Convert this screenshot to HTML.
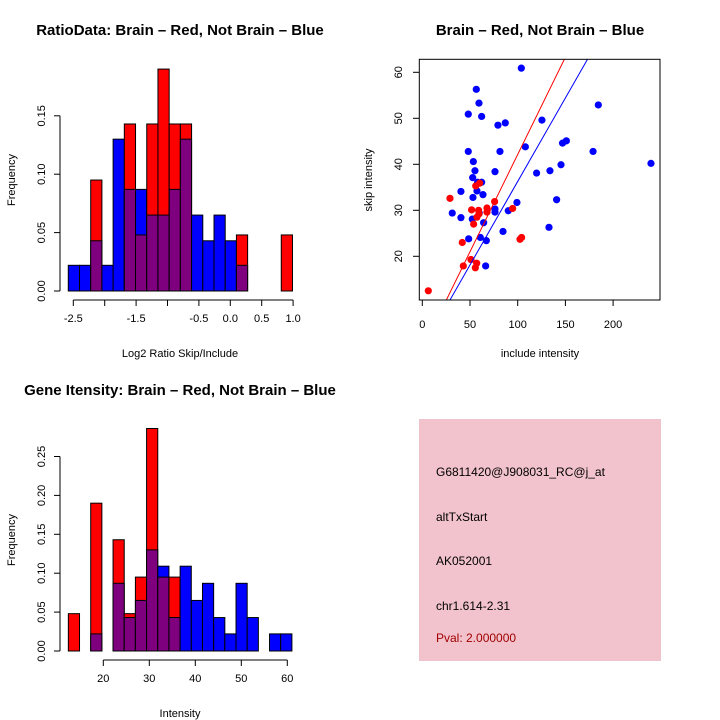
<!DOCTYPE html>
<html><head><meta charset="utf-8"><style>
html,body{margin:0;padding:0;background:#fff}
svg{display:block;font-family:"Liberation Sans",Helvetica,sans-serif}
</style></head><body>
<svg id="s" width="720" height="720" xmlns="http://www.w3.org/2000/svg">
<rect x="419" y="419" width="242" height="242" fill="#f2c3cc"/>
<g font-size="12">
<text x="436" y="476">G6811420@J908031_RC@j_at</text>
<text x="436" y="521">altTxStart</text>
<text x="436" y="565">AK052001</text>
<text x="436" y="610">chr1.614-2.31</text>
<text x="436" y="642" fill="#a00000">Pval: 2.000000</text>
</g>
</svg>
<script>
// ---- data ----
const ratioBinStart = -2.58, ratioBinWidth = 0.1785;
const ratioBlue = [0.022,0.022,0.043,0.022,0.13,0.087,0.087,0.065,0.065,0.087,0.13,0.065,0.043,0.065,0.043,0.022,0,0,0,0];
const ratioRed  = [0,0,0.095,0,0,0.143,0.048,0.143,0.19,0.143,0.143,0,0,0,0,0.048,0,0,0,0.048];
const ratioXTicks = [-2.5,-2,-1.5,-1,-0.5,0,0.5,1.0];
const ratioXLabels = ["-2.5","","-1.5","","-0.5","0.0","0.5","1.0"];
const ratioYTicks = [0,0.05,0.10,0.15];
const ratioYLabels = ["0.00","0.05","0.10","0.15"];

const intBinStart = 12.4, intBinWidth = 2.43;
const intBlue = [0,0,0.022,0,0.087,0.043,0.065,0.13,0.109,0.043,0.109,0.065,0.087,0.043,0.022,0.087,0.043,0,0.022,0.022];
const intRed  = [0.048,0,0.19,0,0.143,0.048,0.095,0.286,0.095,0.095,0,0,0,0,0,0,0,0,0,0];
const intXTicks = [20,30,40,50,60];
const intYTicks = [0,0.05,0.10,0.15,0.20,0.25];
const intYLabels = ["0.00","0.05","0.10","0.15","0.20","0.25"];

const blueX = [103.8,56.6,59.4,48.2,62.2,79.3,87,125.4,184.5,48.2,81.4,108,147,151,179,239.7,53.5,55.2,76.2,119.8,133.8,145.4,52.8,58,62.2,40.5,57.3,63.6,53.1,140.8,99.2,90.1,76.2,76.2,31.4,40.5,52.4,59.7,64.3,84.6,132.8,48.6,60.8,67.1,66.4];
const blueY = [60.9,56.3,53.3,50.9,50.4,48.5,49,49.6,52.9,42.8,42.8,43.8,44.6,45.1,42.8,40.2,40.6,38.6,38.4,38.1,38.6,39.9,37.1,36.1,36.1,34.1,34.2,33.4,32.8,32.3,31.7,29.9,30.3,29.6,29.4,28.4,28.1,29.4,27.3,25.4,26.3,23.8,24.1,23.4,17.9];
const redX = [6.3,29,41.9,43,51.7,59,53.8,56,60.1,59.4,57.3,67.8,67.8,75.8,94.7,102.4,104.1,51,57,55.6];
const redY = [12.5,32.6,23.0,17.9,30.1,30,27,35.3,35.9,29.2,28.5,30.5,29.6,31.9,30.4,23.7,24.1,19.3,18.5,17.5];
const fitRed = [-0.16,0.423];   // intercept, slope
const fitBlue = [-0.03,0.363];
const scatXTicks = [0,50,100,150,200];
const scatYTicks = [20,30,40,50,60];

// ---- drawing ----
const S = document.getElementById('s');
const NS = 'http://www.w3.org/2000/svg';
function mk(tag, attrs, parent){const e=document.createElementNS(NS,tag);for(const k in attrs)e.setAttribute(k,attrs[k]);(parent||S).appendChild(e);return e;}
function txt(x,y,s,opt,parent){const e=mk('text',Object.assign({x:x,y:y,'text-anchor':'middle','font-size':11},opt||{}),parent);e.textContent=s;return e;}

function hist(cfg){
  const g=mk('g',{});
  
  
  const xs=v=>cfg.x0+(v-cfg.xv0)*cfg.xk, ys=v=>cfg.y0-v*cfg.yk;
  for(let i=0;i<cfg.blue.length;i++){
    const b=cfg.blue[i], r=cfg.red[i];
    const xl=xs(cfg.start+i*cfg.width), xr=xs(cfg.start+(i+1)*cfg.width);
    const mx=Math.max(b,r), mn=Math.min(b,r);
    if(mx>0){
      const rc=mk('rect',{x:xl,y:ys(mx),width:xr-xl,height:ys(0)-ys(mx),fill:r>b?'#ff0000':'#0000ff',stroke:'#000','stroke-width':1},g);
      
      
    }
    if(mn>0){
      const pc=mk('rect',{x:xl,y:ys(mn),width:xr-xl,height:ys(0)-ys(mn),fill:'#7f007f',stroke:'#000','stroke-width':1},g);
      
      
    }
  }
  const ya=mk('g',{},g);
  
  
  mk('line',{x1:cfg.yaxX,x2:cfg.yaxX,y1:ys(cfg.yTicks[0]),y2:ys(cfg.yTicks[cfg.yTicks.length-1]),stroke:'#000'},ya);
  cfg.yTicks.forEach((t,i)=>{
    mk('line',{x1:cfg.yaxX-6,x2:cfg.yaxX,y1:ys(t),y2:ys(t),stroke:'#000'},ya);
    txt(cfg.yaxX-18,ys(t),cfg.yLabels[i],{transform:`rotate(-90 ${cfg.yaxX-18} ${ys(t)})`,'dominant-baseline':'central'},ya);
  });
  const xa=mk('g',{},g);
  
  
  const xt=cfg.xTicks;
  mk('line',{x1:xs(xt[0]),x2:xs(xt[xt.length-1]),y1:cfg.xaxY,y2:cfg.xaxY,stroke:'#000'},xa);
  xt.forEach((t,i)=>{
    mk('line',{x1:xs(t),x2:xs(t),y1:cfg.xaxY,y2:cfg.xaxY+6,stroke:'#000'},xa);
    if(cfg.xLabels[i]) txt(xs(t),cfg.xaxY+22,cfg.xLabels[i],{},xa);
  });
}

hist({name:'ratio-histogram',x0:73.3,xv0:-2.5,xk:62.8,y0:291,yk:1168,start:ratioBinStart,width:ratioBinWidth,
  blue:ratioBlue,red:ratioRed,yTicks:ratioYTicks,yLabels:ratioYLabels,xTicks:ratioXTicks,xLabels:ratioXLabels,yaxX:60,xaxY:300});
hist({name:'intensity-histogram',x0:103.3,xv0:20,xk:4.6,y0:651,yk:778,start:intBinStart,width:intBinWidth,
  blue:intBlue,red:intRed,yTicks:intYTicks,yLabels:intYLabels,xTicks:intXTicks,xLabels:intXTicks.map(String),yaxX:60,xaxY:660});

const sg=mk('g',{});


const sx=v=>422.3+v*0.954, sy=v=>72.3+(60-v)*4.6;
const clip=mk('clipPath',{id:'pc'},sg);mk('rect',{x:419.3,y:59.3,width:240.7,height:240.7},clip);
const pts=mk('g',{'clip-path':'url(#pc)'},sg);


blueX.forEach((x,i)=>{const c=mk('circle',{cx:sx(x),cy:sy(blueY[i]),r:3.6,fill:'#0000ff'},pts);
  
  });
redX.forEach((x,i)=>{const c=mk('circle',{cx:sx(x),cy:sy(redY[i]),r:3.6,fill:'#ff0000'},pts);
  
  });
[[fitRed,'#ff0000','red-fit-line'],[fitBlue,'#0000ff','blue-fit-line']].forEach(([f,c,n])=>{
  const l=mk('line',{x1:sx(-10),y1:sy(f[0]+f[1]*-10),x2:sx(260),y2:sy(f[0]+f[1]*260),stroke:c,'stroke-width':1},pts);
  
  
});
mk('rect',{x:419.3,y:59.3,width:240.7,height:240.7,fill:'none',stroke:'#000'},sg);
mk('line',{x1:sx(0),x2:sx(200),y1:300,y2:300,stroke:'#000'},sg);
scatXTicks.forEach(t=>{mk('line',{x1:sx(t),x2:sx(t),y1:300,y2:306,stroke:'#000'},sg);txt(sx(t),328,String(t),{},sg);});
scatYTicks.forEach(t=>{mk('line',{x1:413,x2:419.3,y1:sy(t),y2:sy(t),stroke:'#000'},sg);
  txt(399,sy(t),String(t),{transform:`rotate(-90 399 ${sy(t)})`,'dominant-baseline':'central'},sg);});

function lab(x,y,s,name,opt){const e=txt(x,y,s,opt);}
lab(180,35,'RatioData: Brain \u2013 Red, Not Brain \u2013 Blue','ratio-title',{'font-weight':'bold','font-size':15});
lab(540,35,'Brain \u2013 Red, Not Brain \u2013 Blue','scatter-title',{'font-weight':'bold','font-size':15});
lab(180,395,'Gene Itensity: Brain \u2013 Red, Not Brain \u2013 Blue','intensity-title',{'font-weight':'bold','font-size':15});
lab(180,357,'Log2 Ratio Skip/Include','ratio-x-title',{});
lab(540,357,'include intensity','scatter-x-title',{});
lab(180,717,'Intensity','intensity-x-title',{});
lab(12,180,'Frequency','ratio-y-title',{transform:'rotate(-90 12 180)','dominant-baseline':'central'});
lab(12,540,'Frequency','intensity-y-title',{transform:'rotate(-90 12 540)','dominant-baseline':'central'});
lab(369,180,'skip intensity','scatter-y-title',{transform:'rotate(-90 369 180)','dominant-baseline':'central'});
</script>
</body></html>
